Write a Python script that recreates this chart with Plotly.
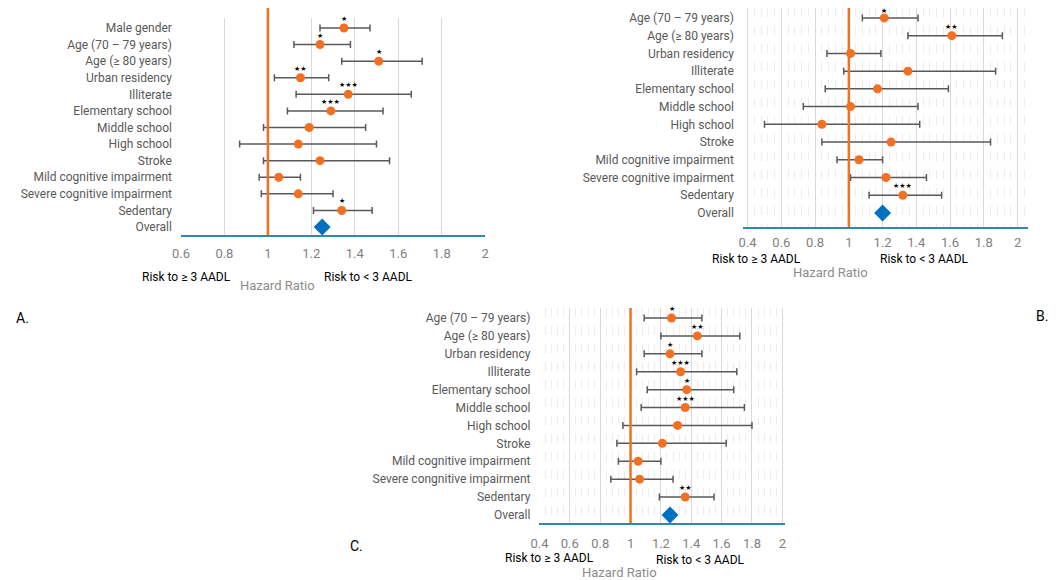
import plotly.graph_objects as go

W, H = 1059, 580
OFF = 8  # the page body keeps an 8px margin, so the figure is drawn 8px in

# ---- panel A ----
a_labels = ["Male gender", "Age (70 – 79 years)", "Age (≥ 80 years)", "Urban residency",
            "Illiterate", "Elementary school", "Middle school", "High school", "Stroke",
            "Mild cognitive impairment", "Severe cognitive impairment", "Sedentary"]
a_hr = [1.35, 1.24, 1.51, 1.15, 1.37, 1.29, 1.19, 1.14, 1.24, 1.05, 1.14, 1.34]
a_lo = [1.24, 1.12, 1.34, 1.03, 1.13, 1.09, 0.98, 0.87, 0.98, 0.96, 0.97, 1.21]
a_hi = [1.47, 1.38, 1.71, 1.28, 1.66, 1.53, 1.45, 1.50, 1.56, 1.15, 1.30, 1.48]
a_sig = ["*", "*", "*", "**", "***", "***", "", "", "", "", "", "*"]
a_overall = 1.25

# ---- panel B ----
b_labels = ["Age (70 – 79 years)", "Age (≥ 80 years)", "Urban residency", "Illiterate",
            "Elementary school", "Middle school", "High school", "Stroke",
            "Mild cognitive impairment", "Severe cognitive impairment", "Sedentary"]
b_hr = [1.21, 1.61, 1.01, 1.35, 1.17, 1.01, 0.84, 1.25, 1.06, 1.22, 1.32]
b_lo = [1.08, 1.35, 0.87, 0.97, 0.86, 0.73, 0.50, 0.84, 0.93, 1.01, 1.12]
b_hi = [1.41, 1.91, 1.19, 1.87, 1.59, 1.41, 1.42, 1.84, 1.20, 1.46, 1.55]
b_sig = ["*", "**", "", "", "", "", "", "", "", "", "***"]
b_overall = 1.20

# ---- panel C ----
c_labels = ["Age (70 – 79 years)", "Age (≥ 80 years)", "Urban residency", "Illiterate",
            "Elementary school", "Middle school", "High school", "Stroke",
            "Mild cognitive impairment", "Severe congnitive impairment", "Sedentary"]
c_hr = [1.27, 1.44, 1.26, 1.33, 1.37, 1.36, 1.31, 1.21, 1.05, 1.06, 1.36]
c_lo = [1.09, 1.20, 1.09, 1.04, 1.11, 1.07, 0.95, 0.91, 0.92, 0.87, 1.19]
c_hi = [1.47, 1.72, 1.47, 1.70, 1.68, 1.75, 1.80, 1.63, 1.20, 1.28, 1.55]
c_sig = ["*", "**", "*", "***", "*", "***", "", "", "", "", "**"]
c_overall = 1.26

ORANGE = "#F37021"
BLUE = "#0070C0"
GREY = "#595959"
TEAL = "#2E8BA8"
FONT = "Roboto"

FW, FH = W - OFF, H - OFF


def px_x(v):
    return (v - OFF) / FW


def px_y(v):
    return 1 - (v - OFF) / FH


fig = go.Figure()

panels = [
    # labels, hr, lo, hi, sig, overall, xdomain px, ydomain px (top, bottom), xrange, yrange,
    # minor grid, tick0, tick label standoff
    (a_labels, a_hr, a_lo, a_hi, a_sig, a_overall, (174, 482), (18, 235), [0.6, 2.0], [12.48, -0.6], False, 0.6, 5),
    (b_labels, b_hr, b_lo, b_hi, b_sig, b_overall, (743, 1032), (8, 227), [0.372, 2.064], [11.79, -0.56], True, 0.4, 2),
    (c_labels, c_hr, c_lo, c_hi, c_sig, c_overall, (537, 786), (308, 523), [0.4, 2.02], [11.45, -0.56], True, 0.4, 7),
]

layout_axes = {}
for i, (labels, hr, lo, hi, sig, overall, xd, yd, xr, yr, minor, t0, stand) in enumerate(panels):
    n = str(i + 1) if i else ""
    xa, ya = "x" + n, "y" + n
    cats = labels + ["Overall"]
    fig.add_trace(go.Scatter(
        x=hr, y=labels, mode="markers", xaxis=xa, yaxis=ya,
        marker=dict(color=ORANGE, size=9),
        error_x=dict(type="data", symmetric=False,
                     array=[h - m for h, m in zip(hi, hr)],
                     arrayminus=[m - l for m, l in zip(hr, lo)],
                     color=GREY, thickness=1.5, width=3.5),
        showlegend=False, cliponaxis=False))
    fig.add_trace(go.Scatter(
        x=[overall], y=["Overall"], mode="markers", xaxis=xa, yaxis=ya,
        marker=dict(color=BLUE, size=13, symbol="diamond"),
        showlegend=False, cliponaxis=False))

    # significance stars just above each point
    for k, (h, lab, s) in enumerate(zip(hr, labels, sig)):
        if s:
            shift = 7 if (i == 1 and k == 0) else 9
            fig.add_annotation(text="★" * len(s), x=h, y=lab, xref=xa, yref=ya,
                               showarrow=False, yshift=shift, borderpad=0,
                               font=dict(family="DejaVu Sans", size=7, color="black"))

    xaxis = dict(domain=[px_x(xd[0]), px_x(xd[1])], range=xr, anchor=ya,
                 tick0=t0, dtick=0.2, showgrid=True, gridcolor="#D9D9D9", gridwidth=1,
                 showline=True, linecolor=TEAL, linewidth=2, zeroline=False,
                 ticks="", tickfont=dict(family=FONT, size=13, color="#7F7F7F"),
                 ticklabelstandoff=stand)
    if minor:
        xaxis["minor"] = dict(dtick=0.04, tick0=0.4, showgrid=True,
                              gridcolor="#EDEDED", gridwidth=1, griddash="dash")
    yaxis = dict(domain=[px_y(yd[1]), px_y(yd[0])], type="category",
                 categoryorder="array", categoryarray=cats, range=yr, anchor=xa,
                 showgrid=False, zeroline=False, showline=False, ticks="",
                 tickfont=dict(family=FONT, size=12, color="#595959"),
                 ticklabelstandoff=8)
    layout_axes["xaxis" + n] = xaxis
    layout_axes["yaxis" + n] = yaxis

    # reference line at HR = 1
    fig.add_shape(type="line", xref=xa, yref="paper", x0=1, x1=1,
                  y0=px_y(yd[1]), y1=px_y(yd[0] - 10 if i == 0 else yd[0]),
                  line=dict(color=ORANGE, width=2.5))

fig.update_layout(**layout_axes)

# axis captions
captions = [
    ("Risk to ≥ 3 AADL", 180, 277, "black", 12),
    ("Risk to < 3 AADL", 364, 277, "black", 12),
    ("Hazard Ratio", 272, 285, "#8C8C8C", 13),
    ("Risk to ≥ 3 AADL", 757, 259, "black", 12),
    ("Risk to < 3 AADL", 927, 259, "black", 12),
    ("Hazard Ratio", 832, 272, "#8C8C8C", 13),
    ("Risk to ≥ 3 AADL", 547, 558, "black", 12),
    ("Risk to < 3 AADL", 700, 560, "black", 12),
    ("Hazard Ratio", 618, 572, "#8C8C8C", 13),
    ("A.", 14, 318, "black", 14),
    ("B.", 1046, 316, "black", 14),
    ("C.", 352, 546, "black", 14),
]
for txt, x, y, col, size in captions:
    fig.add_annotation(text=txt, x=px_x(x), y=px_y(y), xref="paper", yref="paper",
                       showarrow=False, xanchor="center", yanchor="middle",
                       font=dict(family=FONT, size=size, color=col))

fig.update_layout(width=FW, height=FH, margin=dict(l=0, r=0, t=0, b=0),
                  plot_bgcolor="white", paper_bgcolor="white",
                  font=dict(family=FONT))

fig.write_html("out.html")
